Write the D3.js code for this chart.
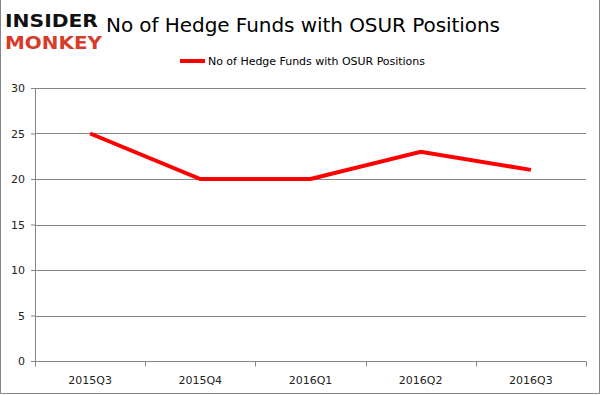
<!DOCTYPE html>
<html lang="en">
<head>
<meta charset="utf-8"/>
<title>No of Hedge Funds with OSUR Positions</title>
<script src="https://d3js.org/d3.v7.min.js"></script>
<style>
  body { margin: 0; background: #fff; }
  text { font-family: "DejaVu Sans", Verdana, sans-serif; }
  .axis .domain { stroke: #868686; }
  .axis line { stroke: #868686; }
  .axis text { fill: #222; font-size: 11px; }
</style>
</head>
<body>
<div id="chart"></div>
<script>
  // data
  var quarters = ["2015Q3", "2015Q4", "2016Q1", "2016Q2", "2016Q3"];
  var funds = [25, 20, 20, 23, 21];
  var yTicks = [0, 5, 10, 15, 20, 25, 30];
  var seriesName = "No of Hedge Funds with OSUR Positions";

  var width = 601, height = 395;
  var margin = {top: 88, right: 15, bottom: 34, left: 35};
  var w = width - margin.left - margin.right,
      h = height - margin.top - margin.bottom;

  var svg = d3.select("#chart").append("svg")
      .attr("width", width)
      .attr("height", height);

  // frame (left, right, bottom)
  svg.append("path")
      .attr("d", "M0.5,0V393.5H599.5V0")
      .attr("fill", "none")
      .attr("stroke", "#868686");

  var x = d3.scaleBand().domain(quarters).range([0, w]);
  var y = d3.scaleLinear().domain([0, 30]).range([h, 0]);

  var g = svg.append("g")
      .attr("transform", "translate(" + margin.left + "," + margin.top + ")");

  // gridlines
  g.append("g")
    .selectAll("line")
    .data(yTicks.slice(1))
    .enter().append("line")
      .attr("x1", 0)
      .attr("x2", w)
      .attr("y1", function(d) { return Math.round(y(d)) + 0.5; })
      .attr("y2", function(d) { return Math.round(y(d)) + 0.5; })
      .attr("stroke", "#868686");

  g.append("g")
      .attr("class", "axis")
      .call(d3.axisLeft(y).tickValues(yTicks).tickSize(4).tickPadding(6))
      .call(function(a) { a.select(".domain").attr("d", "M0.5," + h + "V0"); });

  // x axis: ticks at category boundaries
  var xAxis = g.append("g")
      .attr("class", "axis")
      .attr("transform", "translate(0," + (Math.round(h) + 0.5) + ")");
  xAxis.append("line")
      .attr("x1", 0).attr("x2", w);
  xAxis.selectAll(".bound")
    .data(d3.range(quarters.length + 1))
    .enter().append("line")
      .attr("class", "bound")
      .attr("x1", function(i) { return Math.round(i * x.step()) + 0.5; })
      .attr("x2", function(i) { return Math.round(i * x.step()) + 0.5; })
      .attr("y1", 0).attr("y2", 5);
  xAxis.selectAll("text")
    .data(quarters)
    .enter().append("text")
      .attr("x", function(d) { return x(d) + x.bandwidth() / 2; })
      .attr("y", 22)
      .attr("text-anchor", "middle")
      .text(function(d) { return d; });

  var line = d3.line()
      .x(function(d, i) { return x(quarters[i]) + x.bandwidth() / 2; })
      .y(function(d) { return y(d); });

  g.append("path")
      .datum(funds)
      .attr("d", line)
      .attr("fill", "none")
      .attr("stroke", "#ff0000")
      .attr("stroke-width", 4);

  // title
  svg.append("text")
      .attr("x", 106)
      .attr("y", 32)
      .attr("font-size", 20)
      .attr("fill", "#000")
      .attr("textLength", 394)
      .text(seriesName);

  // legend
  svg.append("line")
      .attr("x1", 180).attr("x2", 205)
      .attr("y1", 61).attr("y2", 61)
      .attr("stroke", "#ff0000")
      .attr("stroke-width", 4);
  svg.append("text")
      .attr("x", 208)
      .attr("y", 65)
      .attr("font-size", 11)
      .attr("fill", "#000")
      .attr("textLength", 217)
      .text(seriesName);

  // logo
  svg.append("rect")
      .attr("x", 3).attr("y", 4).attr("width", 101).attr("height", 48)
      .attr("fill", "#fff");
  svg.append("text")
      .attr("x", 5).attr("y", 27)
      .attr("font-size", 18)
      .attr("font-weight", 900)
      .attr("fill", "#111")
      .attr("textLength", 93)
      .attr("lengthAdjust", "spacingAndGlyphs")
      .text("INSIDER");
  svg.append("text")
      .attr("x", 5).attr("y", 49)
      .attr("font-size", 18)
      .attr("font-weight", 900)
      .attr("fill", "#d63c2a")
      .attr("textLength", 97)
      .attr("lengthAdjust", "spacingAndGlyphs")
      .text("MONKEY");
</script>
</body>
</html>
